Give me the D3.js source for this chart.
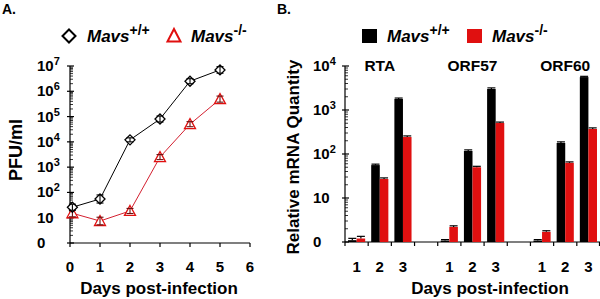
<!DOCTYPE html>
<html>
<head>
<meta charset="utf-8">
<script src="https://cdn.jsdelivr.net/npm/d3@7"></script>
<style>
  html, body { margin: 0; padding: 0; background: #fff; }
  svg { display: block; font-family: "Liberation Sans", Arial, sans-serif; font-weight: bold; }
</style>
</head>
<body>
<div id="chart"></div>
<script>
// Panel A: viral titer (PFU/ml) by day
const daysA = [0.08, 1, 2, 3, 4, 5];
const pfuWT = [26, 55, 12000, 80000, 2500000, 7000000];
const pfuKO = [15, 7.4, 18.5, 2500, 50000, 490000];
const errWT = [0.12, 0.16, 0.08, 0.12, 0.1, 0.13]; // log10 units
const errKO = [0.14, 0.15, 0.1, 0.1, 0.1, 0.12];
const xTicksA = [0, 1, 2, 3, 4, 5, 6];
const yTicksA = [1, 10, 1e2, 1e3, 1e4, 1e5, 1e6, 1e7];

// Panel B: relative mRNA quantity
const genes = ["RTA", "ORF57", "ORF60"];
const daysB = ["1", "2", "3"];
const mrnaWT = {
  RTA: [1.1, 56, 1780],
  ORF57: [1.08, 117, 3000],
  ORF60: [1.08, 178, 5600],
};
const mrnaKO = {
  RTA: [1.2, 27, 243],
  ORF57: [2.2, 50, 506],
  ORF60: [1.7, 63, 370],
};
const errBWT = { RTA: [0.1, 0.05, 0.05], ORF57: [0.05, 0.06, 0.06], ORF60: [0.05, 0.06, 0.04] };
const errBKO = { RTA: [0.12, 0.06, 0.06], ORF57: [0.06, 0.05, 0.05], ORF60: [0.06, 0.05, 0.06] };
const yTicksB = [1, 10, 1e2, 1e3, 1e4];

const series = [
  { name: "Mavs", sup: "+/+", color: "#000000", line: "#000000", err: "#000000" },
  { name: "Mavs", sup: "-/-", color: "#e01010", line: "#d42030", err: "#6a1010" },
];

const width = 600;
const height = 299;
const svg = d3.select("#chart").append("svg").attr("width", width).attr("height", height);

function tickLabel(g, x, y, v) {
  const e = Math.round(Math.log10(v));
  const t = g.append("text").attr("x", x).attr("y", y + 5).attr("font-size", 15);
  if (e === 0) t.text("0");
  else if (e === 1) t.text("10");
  else {
    t.append("tspan").text("10");
    t.append("tspan").attr("dy", -6).attr("font-size", 11).text(e);
  }
}

function logAxis(g, y, x0, ticks, labelX) {
  const [lo, hi] = y.domain();
  g.append("line").attr("x1", x0).attr("x2", x0).attr("y1", y(lo)).attr("y2", y(hi)).attr("stroke", "#000").attr("stroke-width", 1.2);
  for (let k = Math.log10(lo); k < Math.log10(hi); k++) {
    for (let m = 2; m <= 9; m++) {
      g.append("line").attr("x1", x0).attr("x2", x0 + 3).attr("y1", y(m * 10 ** k)).attr("y2", y(m * 10 ** k)).attr("stroke", "#000").attr("stroke-width", 0.8);
    }
  }
  ticks.forEach((v) => {
    g.append("line").attr("x1", x0 - 3).attr("x2", x0 + 4).attr("y1", y(v)).attr("y2", y(v)).attr("stroke", "#000").attr("stroke-width", 1.2);
    tickLabel(g, labelX, y(v), v);
  });
}

function legendText(g, x, y, s) {
  const t = g.append("text").attr("x", x).attr("y", y).attr("font-size", 17);
  t.append("tspan").attr("font-style", "italic").text(s.name);
  t.append("tspan").attr("dy", -7).attr("font-size", 14).text(s.sup);
}

// ---------- Panel A ----------
const gA = svg.append("g");
const xA = d3.scaleLinear().domain([0, 6]).range([70, 250]);
const yA = d3.scaleLog().domain([1, 1e7]).range([243, 66]);

gA.append("text").attr("x", 2).attr("y", 14).attr("font-size", 14).text("A.");

logAxis(gA, yA, xA(0), yTicksA, 37);
gA.append("line").attr("x1", xA(0)).attr("x2", xA(6)).attr("y1", yA(1)).attr("y2", yA(1)).attr("stroke", "#000").attr("stroke-width", 1.2);
xTicksA.forEach((d) => {
  gA.append("line").attr("x1", xA(d)).attr("x2", xA(d)).attr("y1", yA(1)).attr("y2", yA(1) + 4).attr("stroke", "#000").attr("stroke-width", 1.2);
  gA.append("text").attr("x", xA(d)).attr("y", 272).attr("text-anchor", "middle").attr("font-size", 15).text(d);
});
gA.append("text").attr("x", 159).attr("y", 294).attr("text-anchor", "middle").attr("font-size", 17).text("Days post-infection");
gA.append("text").attr("transform", "translate(22,150) rotate(-90)").attr("text-anchor", "middle").attr("font-size", 18).text("PFU/ml");

const line = d3.line().x((d) => xA(d[0])).y((d) => yA(d[1]));
const diamond = "M0,-5L5,0L0,5L-5,0Z";
const triangle = "M0,-5.5L5.5,4.5L-5.5,4.5Z";

[[pfuKO, errKO, series[1], triangle], [pfuWT, errWT, series[0], diamond]].forEach(([vals, errs, s, shape]) => {
  const pts = daysA.map((d, i) => [d, vals[i]]);
  gA.append("path").attr("d", line(pts)).attr("fill", "none").attr("stroke", s.line).attr("stroke-width", 1);
  pts.forEach((p, i) => {
    const px = xA(p[0]);
    const yHi = yA(p[1] * 10 ** errs[i]);
    const yLo = yA(p[1] / 10 ** errs[i]);
    gA.append("path").attr("d", shape).attr("transform", `translate(${px},${yA(p[1])})`).attr("fill", "#fff").attr("stroke", s.color).attr("stroke-width", 1.3);
    const eb = gA.append("g").attr("stroke", s.err).attr("stroke-width", 1.1);
    eb.append("line").attr("x1", px).attr("x2", px).attr("y1", yHi).attr("y2", yLo);
    eb.append("line").attr("x1", px - 3.5).attr("x2", px + 3.5).attr("y1", yHi).attr("y2", yHi);
    eb.append("line").attr("x1", px - 3.5).attr("x2", px + 3.5).attr("y1", yLo).attr("y2", yLo);
  });
});

gA.append("path").attr("d", "M0,-6.5L6.5,0L0,6.5L-6.5,0Z").attr("transform", "translate(69,36)").attr("fill", "none").attr("stroke", "#000").attr("stroke-width", 2);
legendText(gA, 87, 42, series[0]);
gA.append("path").attr("d", "M0,-7L6.5,5.5L-6.5,5.5Z").attr("transform", "translate(174,36)").attr("fill", "none").attr("stroke", series[1].color).attr("stroke-width", 2);
legendText(gA, 191, 42, series[1]);

// ---------- Panel B ----------
const gB = svg.append("g");
const categories = [];
genes.forEach((g, gi) => {
  daysB.forEach((d) => categories.push(`${g}-${d}`));
  if (gi < genes.length - 1) categories.push(`gap-${gi}`);
});
const xB = d3.scaleBand().domain(categories).range([345, 600]).padding(0);
const yB = d3.scaleLog().domain([1, 1e4]).range([242, 66]);
const bw = xB.bandwidth() * 0.37;

gB.append("text").attr("x", 277).attr("y", 14).attr("font-size", 14).text("B.");
logAxis(gB, yB, 345, yTicksB, 313);
gB.append("line").attr("x1", 345).attr("x2", 600).attr("y1", yB(1)).attr("y2", yB(1)).attr("stroke", "#000").attr("stroke-width", 1.2);
categories.forEach((c) => {
  const x0 = xB(c);
  gB.append("line").attr("x1", x0).attr("x2", x0).attr("y1", yB(1)).attr("y2", yB(1) + 4).attr("stroke", "#000").attr("stroke-width", 1.2);
});
gB.append("line").attr("x1", 599.5).attr("x2", 599.5).attr("y1", yB(1)).attr("y2", yB(1) + 4).attr("stroke", "#000").attr("stroke-width", 1.2);

genes.forEach((g) => {
  daysB.forEach((d, i) => {
    const cx = xB(`${g}-${d}`) + xB.bandwidth() / 2;
    gB.append("text").attr("x", cx).attr("y", 272).attr("text-anchor", "middle").attr("font-size", 15).text(d);
    [[mrnaWT, errBWT, series[0], cx - bw], [mrnaKO, errBKO, series[1], cx]].forEach(([vals, errs, s, x]) => {
      const v = vals[g][i];
      gB.append("rect").attr("x", x).attr("y", yB(v)).attr("width", bw).attr("height", yB(1) - yB(v)).attr("fill", s.color);
      const yTop = yB(v * (1 + errs[g][i]));
      const bx = x + bw / 2;
      gB.append("line").attr("x1", bx).attr("x2", bx).attr("y1", yB(v)).attr("y2", yTop).attr("stroke", "#000").attr("stroke-width", 1.2);
      gB.append("line").attr("x1", bx - 4).attr("x2", bx + 4).attr("y1", yTop).attr("y2", yTop).attr("stroke", "#000").attr("stroke-width", 1.2);
    });
  });
  gB.append("text").attr("x", xB(`${g}-2`) + xB.bandwidth() / 2).attr("y", 71).attr("text-anchor", "middle").attr("font-size", 15.5).text(g);
});

gB.append("text").attr("x", 490).attr("y", 294).attr("text-anchor", "middle").attr("font-size", 17).text("Days post-infection");
gB.append("text").attr("transform", "translate(299,157) rotate(-90)").attr("text-anchor", "middle").attr("font-size", 17).text("Relative mRNA Quantity");

gB.append("rect").attr("x", 362).attr("y", 29).attr("width", 15).attr("height", 14).attr("fill", series[0].color);
legendText(gB, 387, 42, series[0]);
gB.append("rect").attr("x", 467).attr("y", 29).attr("width", 15).attr("height", 14).attr("fill", series[1].color);
legendText(gB, 492, 42, series[1]);
</script>
</body>
</html>
